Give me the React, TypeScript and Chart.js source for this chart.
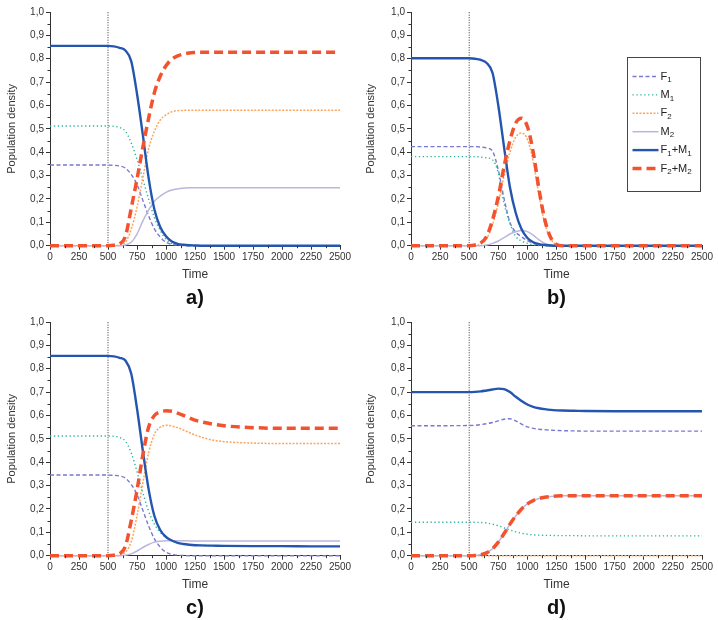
import React, { useEffect, useRef } from 'react';
import { Chart, registerables } from 'chart.js';

Chart.register(...registerables);

// ---- data ----
const times = [0, 500, 550, 600, 650, 700, 750, 800, 850, 900, 950, 1000, 1050, 1100, 1150, 1200, 1250, 1300, 1400, 1500, 1750, 2000, 2250, 2500];

// panel a
const aF1 = [0.345, 0.345, 0.344, 0.341, 0.332, 0.305, 0.262, 0.195, 0.128, 0.072, 0.037, 0.015, 0.006, 0.002, 0.001, 0, 0, 0, 0, 0, 0, 0, 0, 0];
const aM1 = [0.512, 0.512, 0.511, 0.506, 0.49, 0.44, 0.37, 0.285, 0.2, 0.12, 0.065, 0.028, 0.01, 0.004, 0.001, 0, 0, 0, 0, 0, 0, 0, 0, 0];
const aF2 = [0, 0, 0, 0.003, 0.015, 0.07, 0.165, 0.29, 0.415, 0.49, 0.538, 0.56, 0.573, 0.578, 0.579, 0.58, 0.58, 0.58, 0.58, 0.58, 0.58, 0.58, 0.58, 0.58];
const aM2 = [0, 0, 0, 0, 0.003, 0.015, 0.05, 0.105, 0.152, 0.19, 0.212, 0.228, 0.238, 0.243, 0.246, 0.248, 0.248, 0.248, 0.248, 0.248, 0.248, 0.248, 0.248, 0.248];
const aT1 = [0.855, 0.855, 0.853, 0.847, 0.835, 0.79, 0.65, 0.475, 0.29, 0.155, 0.08, 0.04, 0.018, 0.008, 0.004, 0.002, 0.001, 0, 0, 0, 0, 0, 0, 0];
const aT2 = [0, 0, 0.002, 0.008, 0.04, 0.16, 0.285, 0.42, 0.545, 0.655, 0.725, 0.77, 0.798, 0.812, 0.82, 0.825, 0.827, 0.828, 0.828, 0.828, 0.828, 0.828, 0.828, 0.828];

// panel b
const bF1 = [0.424, 0.424, 0.424, 0.422, 0.418, 0.405, 0.324, 0.2, 0.1, 0.058, 0.038, 0.022, 0.01, 0.004, 0.001, 0, 0, 0, 0, 0, 0, 0, 0, 0];
const bM1 = [0.381, 0.381, 0.381, 0.379, 0.376, 0.368, 0.31, 0.18, 0.095, 0.04, 0.02, 0.01, 0.004, 0.001, 0, 0, 0, 0, 0, 0, 0, 0, 0, 0];
const bF2 = [0, 0, 0, 0.008, 0.03, 0.09, 0.18, 0.3, 0.4, 0.465, 0.482, 0.455, 0.36, 0.215, 0.095, 0.03, 0.004, 0, 0, 0, 0, 0, 0, 0];
const bM2 = [0, 0, 0, 0, 0.003, 0.01, 0.02, 0.035, 0.05, 0.06, 0.065, 0.06, 0.045, 0.025, 0.01, 0.003, 0, 0, 0, 0, 0, 0, 0, 0];
const bT1 = [0.802, 0.802, 0.8, 0.795, 0.782, 0.74, 0.6, 0.42, 0.25, 0.14, 0.07, 0.033, 0.015, 0.007, 0.003, 0.001, 0, 0, 0, 0, 0, 0, 0, 0];
const bT2 = [0, 0, 0.003, 0.012, 0.04, 0.11, 0.21, 0.34, 0.45, 0.525, 0.545, 0.51, 0.4, 0.24, 0.11, 0.035, 0.005, 0, 0, 0, 0, 0, 0, 0];

// panel c
const cF1 = [0.345, 0.345, 0.344, 0.341, 0.332, 0.305, 0.262, 0.195, 0.128, 0.072, 0.037, 0.015, 0.006, 0.002, 0.001, 0, 0, 0, 0, 0, 0, 0, 0, 0];
const cM1 = [0.512, 0.512, 0.511, 0.506, 0.49, 0.44, 0.36, 0.27, 0.19, 0.135, 0.1, 0.078, 0.064, 0.055, 0.05, 0.047, 0.045, 0.044, 0.043, 0.042, 0.041, 0.041, 0.04, 0.04];
const cF2 = [0, 0, 0, 0.003, 0.015, 0.06, 0.17, 0.31, 0.44, 0.52, 0.55, 0.558, 0.555, 0.548, 0.538, 0.527, 0.517, 0.508, 0.495, 0.488, 0.482, 0.48, 0.48, 0.48];
const cM2 = [0, 0, 0, 0, 0.002, 0.008, 0.02, 0.035, 0.048, 0.058, 0.062, 0.064, 0.064, 0.064, 0.064, 0.063, 0.063, 0.063, 0.063, 0.063, 0.063, 0.063, 0.063, 0.063];
const cT1 = [0.855, 0.855, 0.853, 0.847, 0.835, 0.78, 0.63, 0.45, 0.285, 0.17, 0.11, 0.08, 0.065, 0.055, 0.05, 0.047, 0.045, 0.044, 0.043, 0.042, 0.041, 0.041, 0.04, 0.04];
const cT2 = [0, 0, 0.002, 0.008, 0.04, 0.15, 0.28, 0.43, 0.55, 0.6, 0.615, 0.62, 0.618, 0.61, 0.6, 0.59, 0.58, 0.573, 0.563, 0.556, 0.548, 0.545, 0.545, 0.545];

// panel d
const dF1 = [0.556, 0.557, 0.558, 0.561, 0.565, 0.57, 0.577, 0.584, 0.586, 0.577, 0.563, 0.551, 0.545, 0.541, 0.539, 0.537, 0.536, 0.535, 0.534, 0.533, 0.533, 0.533, 0.533, 0.533];
const dM1 = [0.143, 0.143, 0.143, 0.142, 0.14, 0.135, 0.128, 0.119, 0.11, 0.102, 0.096, 0.092, 0.089, 0.088, 0.087, 0.087, 0.086, 0.086, 0.086, 0.085, 0.085, 0.085, 0.085, 0.085];
const dF2 = [0, 0, 0, 0, 0, 0, 0, 0, 0, 0, 0, 0, 0, 0, 0, 0, 0, 0, 0, 0, 0, 0, 0, 0];
const dM2 = [0, 0, 0.001, 0.004, 0.012, 0.03, 0.058, 0.095, 0.135, 0.17, 0.2, 0.222, 0.236, 0.245, 0.25, 0.253, 0.255, 0.256, 0.257, 0.257, 0.257, 0.257, 0.257, 0.257];
const dT1 = [0.7, 0.7, 0.701, 0.703, 0.707, 0.711, 0.715, 0.713, 0.7, 0.68, 0.662, 0.647, 0.637, 0.631, 0.627, 0.624, 0.622, 0.621, 0.62, 0.619, 0.618, 0.618, 0.618, 0.618];
const dT2 = [0, 0, 0.001, 0.004, 0.012, 0.03, 0.058, 0.095, 0.135, 0.17, 0.2, 0.222, 0.236, 0.245, 0.25, 0.253, 0.255, 0.256, 0.257, 0.257, 0.257, 0.257, 0.257, 0.257];

const seriesLabels = ['F1', 'M1', 'F2', 'M2', 'F1+M1', 'F2+M2'];
const markerTime = 500;
const xMin = 0, xMax = 2500, xStep = 250;
const yMin = 0, yMax = 1, yStep = 0.1;
const panelTags = ['a)', 'b)', 'c)', 'd)'];

// ---- styles ----
const styles = [
  { color: '#7a78d0', width: 1.4, dash: [4, 2.5] },   // F1
  { color: '#2fb3a0', width: 1.4, dash: [1.3, 2.6] }, // M1
  { color: '#ffa35a', width: 1.5, dash: [2, 1.5] },   // F2
  { color: '#b9b7dd', width: 1.5, dash: [] },         // M2
  { color: '#2456b0', width: 2.4, dash: [] },         // F1+M1
  { color: '#f2532e', width: 3.5, dash: [9, 5] },     // F2+M2
];

const FONT = '"Liberation Sans", Arial, sans-serif';
const CW = 359, CH = 310;

function drawSubText(ctx: CanvasRenderingContext2D, text: string, x: number, y: number) {
  let cx = x;
  for (const ch of text) {
    const sub = /[0-9]/.test(ch);
    ctx.font = sub ? `8px ${FONT}` : `11px ${FONT}`;
    ctx.fillText(ch, cx, sub ? y + 3.5 : y);
    cx += ctx.measureText(ch).width;
  }
}

const minorTicks = {
  id: 'minorTicks',
  afterDraw(chart: any) {
    const { ctx } = chart;
    const xs = chart.scales.x, ys = chart.scales.y;
    ctx.save();
    ctx.strokeStyle = '#333';
    ctx.lineWidth = 1;
    ctx.beginPath();
    for (let v = xMin + xStep / 2; v < xMax; v += xStep) {
      const p = Math.round(xs.getPixelForValue(v)) + 0.5;
      ctx.moveTo(p, ys.bottom);
      ctx.lineTo(p, ys.bottom + 2.5);
    }
    for (let v = yMin + yStep / 2; v < yMax; v += yStep) {
      const p = Math.round(ys.getPixelForValue(v)) + 0.5;
      ctx.moveTo(xs.left - 2.5, p);
      ctx.lineTo(xs.left, p);
    }
    ctx.stroke();
    ctx.restore();
  },
};

const legendPlugin = {
  id: 'boxLegend',
  afterDraw(chart: any, _args: any, opts: any) {
    if (!opts || !opts.show) return;
    const { ctx, chartArea: ca } = chart;
    const bw = 73, bh = 134;
    const bx = Math.round(ca.right - 75) + 0.5;
    const by = Math.round(ca.top + 45) + 0.5;
    ctx.save();
    ctx.fillStyle = '#fff';
    ctx.fillRect(bx, by, bw, bh);
    ctx.strokeStyle = '#444';
    ctx.lineWidth = 1;
    ctx.setLineDash([]);
    ctx.strokeRect(bx, by, bw, bh);
    seriesLabels.forEach((lab, i) => {
      const st = styles[i];
      const yc = by + 19 + i * 18.4;
      ctx.strokeStyle = st.color;
      ctx.lineWidth = st.width;
      ctx.setLineDash(st.dash);
      ctx.beginPath();
      ctx.moveTo(bx + 5, yc);
      ctx.lineTo(bx + 31, yc);
      ctx.stroke();
      ctx.setLineDash([]);
      ctx.fillStyle = '#222';
      ctx.textBaseline = 'middle';
      ctx.textAlign = 'left';
      drawSubText(ctx, lab, bx + 33, yc);
    });
    ctx.restore();
  },
};

function Panel(props: { left: number; top: number; yWidth: number; rightPad: number; series: number[][]; legend: boolean; tag: string }) {
  const ref = useRef<HTMLCanvasElement>(null);
  useEffect(() => {
    if (!ref.current) return;
    const lines = props.series.map((vals, i) => ({
      label: seriesLabels[i],
      data: times.map((t, k) => ({ x: t, y: vals[k] })),
      borderColor: styles[i].color,
      borderWidth: styles[i].width,
      borderDash: styles[i].dash,
      pointRadius: 0,
      fill: false,
      cubicInterpolationMode: 'monotone' as const,
      clip: 4,
    }));
    const marker = {
      label: 'marker',
      data: [{ x: markerTime, y: yMin }, { x: markerTime, y: yMax }],
      borderColor: '#333',
      borderWidth: 1,
      borderDash: [1, 1.5],
      pointRadius: 0,
      fill: false,
      clip: 0,
    };
    // Chart.js draws index 0 on top: reverse so F2+M2 is on top, marker at bottom
    const datasets = [...lines].reverse().concat([marker as any]);
    const chart = new Chart(ref.current, {
      type: 'line',
      data: { datasets: datasets as any },
      options: {
        animation: false,
        responsive: false,
        devicePixelRatio: 1,
        layout: { padding: { top: 12, right: props.rightPad, left: 0, bottom: 0 } },
        plugins: {
          legend: { display: false },
          tooltip: { enabled: false },
          boxLegend: { show: props.legend },
        } as any,
        scales: {
          x: {
            type: 'linear',
            min: xMin,
            max: xMax,
            afterFit: (s: any) => { s.height = 64.3; },
            ticks: {
              stepSize: xStep,
              autoSkip: false,
              maxRotation: 0,
              padding: 2,
              color: '#333',
              font: { family: FONT, size: 10 },
              callback: (v: any) => String(Math.round(Number(v))),
            },
            grid: { drawOnChartArea: false, drawTicks: true, tickLength: 4, color: '#333' },
            border: { display: true, color: '#333', width: 1 },
            title: {
              display: true,
              text: 'Time',
              color: '#333',
              font: { family: FONT, size: 12 },
              padding: { top: 4, bottom: 28 },
            },
          },
          y: {
            type: 'linear',
            min: yMin,
            max: yMax,
            afterFit: (s: any) => { s.width = props.yWidth; },
            ticks: {
              stepSize: yStep,
              padding: 2,
              color: '#333',
              font: { family: FONT, size: 10 },
              callback: (v: any) => Number(v).toFixed(1).replace('.', ','),
            },
            grid: { drawOnChartArea: false, drawTicks: true, tickLength: 4, color: '#333' },
            border: { display: true, color: '#333', width: 1 },
            title: {
              display: true,
              text: 'Population density',
              color: '#333',
              font: { family: FONT, size: 11 },
              padding: { top: 5, bottom: 4 },
            },
          },
        },
      } as any,
      plugins: [minorTicks, legendPlugin],
    });
    return () => chart.destroy();
  }, []);
  const plotCenter = props.yWidth + (CW - props.rightPad - props.yWidth) / 2;
  return (
    <>
      <canvas ref={ref} width={CW} height={CH} style={{ position: 'absolute', left: props.left, top: props.top, width: CW, height: CH }} />
      <div style={{ position: 'absolute', left: props.left + plotCenter - 50, top: props.top + 286, width: 100, textAlign: 'center', font: `bold 20px ${FONT}`, lineHeight: '22px', color: '#111' }}>{props.tag}</div>
    </>
  );
}

export default function App() {
  return (
    <div style={{ position: 'absolute', left: 0, top: 0, width: 718, height: 620, background: '#fff', overflow: 'hidden' }}>
      <Panel left={0} top={0} yWidth={50} rightPad={19} series={[aF1, aM1, aF2, aM2, aT1, aT2]} legend={false} tag={panelTags[0]} />
      <Panel left={359} top={0} yWidth={52} rightPad={16} series={[bF1, bM1, bF2, bM2, bT1, bT2]} legend={true} tag={panelTags[1]} />
      <Panel left={0} top={310} yWidth={50} rightPad={19} series={[cF1, cM1, cF2, cM2, cT1, cT2]} legend={false} tag={panelTags[2]} />
      <Panel left={359} top={310} yWidth={52} rightPad={16} series={[dF1, dM1, dF2, dM2, dT1, dT2]} legend={false} tag={panelTags[3]} />
    </div>
  );
}
